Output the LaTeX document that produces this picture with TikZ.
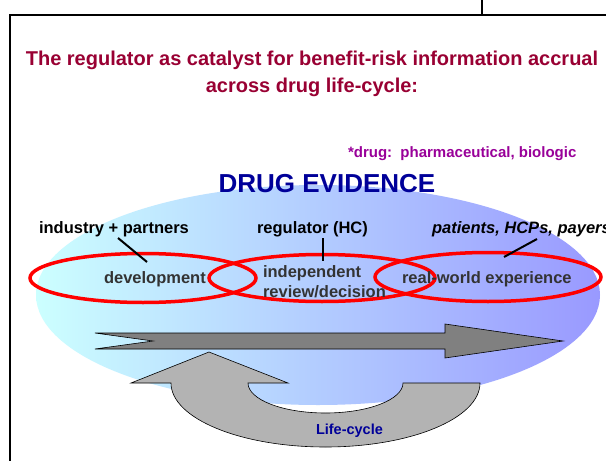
\documentclass[tikz,border=0pt]{standalone}
\usepackage{fontspec}
\setmainfont{Liberation Sans}
\definecolor{titlered}{HTML}{990033}
\definecolor{notepurple}{HTML}{990099}
\definecolor{darkblue}{HTML}{000099}
\definecolor{lblgray}{HTML}{333333}
\definecolor{ellleft}{HTML}{CCFFFF}
\definecolor{ellmid}{HTML}{B8DCFF}
\definecolor{ellright}{HTML}{9999FF}
\definecolor{arrowdark}{HTML}{808080}
\definecolor{arrowlight}{HTML}{B3B3B3}
\tikzset{
  txt/.style={inner sep=0pt, outer sep=0pt, anchor=base west, font=\bfseries\fontsize{16.5}{18}\selectfont},
  inner/.style={txt, text=lblgray},
  redring/.style={draw=red, line width=3.5pt},
  conn/.style={draw=black, line width=2pt},
  frame/.style={draw=black, line width=1.3pt},
  gray arrow/.style={draw=black, line width=0.6pt, line join=miter}
}
\begin{document}
\begin{tikzpicture}[x=1pt, y=-1pt]
\useasboundingbox (0,0) rectangle (606,461);
\clip (0,0) rectangle (606,461);
\fill[white] (0,0) rectangle (606,461);
% frames
\draw[frame] (482,-2) -- (482,15) -- (608,15);
\draw[frame] (10,465) -- (10,15) -- (482,15);
% title
\node[txt, anchor=base, text=titlered, font=\bfseries\fontsize{20}{22}\selectfont] (title1) at (312,65) {The regulator as catalyst for benefit-risk information accrual};
\node[txt, anchor=base, text=titlered, font=\bfseries\fontsize{20}{22}\selectfont] (title2) at (312,92) {across drug life-cycle:};
\node[txt, text=notepurple, font=\bfseries\fontsize{15}{17}\selectfont] (note) at (348,157) {*drug:\ \ pharmaceutical, biologic};
% big ellipse
\shade[left color=ellleft, middle color=ellmid, right color=ellright] (318,295) ellipse [x radius=282pt, y radius=110pt];
\node[txt, anchor=base, text=darkblue, font=\bfseries\fontsize{26}{28}\selectfont] (evidence) at (327,192) {DRUG EVIDENCE};
% red rings
\draw[redring] (143,278) ellipse [x radius=113pt, y radius=24.5pt];
\draw[redring] (322,278) ellipse [x radius=113pt, y radius=23.5pt];
\draw[redring] (488,277) ellipse [x radius=113pt, y radius=24.5pt];
% labels
\node[txt] (industry) at (39,233) {industry + partners};
\node[txt] (regulator) at (257,233) {regulator (HC)};
\node[txt, font=\bfseries\itshape\fontsize{16.5}{18}\selectfont] (patients) at (432,233) {patients, HCPs, payers};
\node[inner] (development) at (104,283) {development};
\node[inner] (independent) at (263,277) {independent};
\node[inner] (review) at (263,297) {review/decision};
\node[inner] (realworld) at (402,283) {real-world experience};
% connectors
\coordinate (c1a) at (118,238);
\coordinate (c1b) at (147,262);
\coordinate (c2a) at (323,238);
\coordinate (c2b) at (323,261);
\coordinate (c3a) at (537,239);
\coordinate (c3b) at (504,257);
\draw[conn] (c1a) -- (c1b);
\draw[conn] (c2a) -- (c2b);
\draw[conn] (c3a) -- (c3b);
% straight arrow
\draw[gray arrow, fill=arrowdark] (95,333) -- (445,333) -- (445,324) -- (563,341) -- (445,358) -- (445,349) -- (95,349) -- (153,341) -- cycle;
% curved arrow
\draw[gray arrow, fill=arrowlight] (209,352) -- (288,383) -- (248,383)
  arc[start angle=180, end angle=360, x radius=77.5pt, y radius=30pt]
  -- (480,383)
  arc[start angle=0, end angle=-180, x radius=154.5pt, y radius=64pt]
  -- (131,383) -- cycle;
\node[txt, text=darkblue, font=\bfseries\fontsize{14.5}{16}\selectfont] (lifecycle) at (316,434) {Life-cycle};
\end{tikzpicture}
\end{document}
